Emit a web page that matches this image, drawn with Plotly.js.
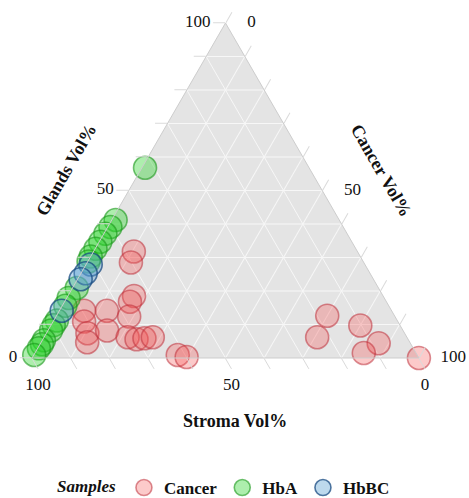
<!DOCTYPE html>
<html>
<head>
<meta charset="utf-8">
<script src="https://cdn.plot.ly/plotly-3.0.1.min.js"></script>
<style>
  html, body { margin: 0; padding: 0; background: #fff; }
  #chart { width: 469px; height: 498px; }
</style>
</head>
<body>
<div id="chart"></div>
<script>
// Tissue composition per sample (volume %): glands + stroma + cancer = 100
const cancerGlands = [31.8, 28.5, 18.5, 16.8, 14.1, 14.1, 10.9, 7.4, 4.7, 8.2, 12.4, 6.2, 5.6, 5.9, 6.2, 0.9, 0.3, 12.6, 6.2, 9.7, 4.4, 1.5, 0.0];
const cancerStroma = [57.8, 60.2, 64.4, 66.3, 79.5, 73.6, 81.1, 82.0, 83.4, 76.5, 68.7, 72.2, 70.2, 68.0, 65.7, 61.9, 59.9, 17.4, 23.2, 10.3, 8.2, 13.5, 0.0];
const cancerCancer = [10.4, 11.3, 17.1, 16.9, 6.4, 12.3, 8.0, 10.6, 11.9, 15.3, 18.9, 21.6, 24.2, 26.1, 28.1, 37.2, 39.8, 70.0, 70.6, 80.0, 87.4, 85.0, 100.0];

const hbaGlands = [56.8, 41.2, 39.1, 37.1, 34.7, 32.6, 30.3, 28.8, 20.9, 17.9, 15.6, 11.2, 9.8, 8.2, 5.3, 4.1, 2.9, 0.9];
const hbaStroma = [42.4, 57.8, 60.2, 62.5, 65.0, 67.3, 69.7, 71.0, 78.0, 81.6, 83.6, 88.0, 89.5, 91.0, 94.3, 95.4, 96.8, 99.0];
const hbaCancer = [0.8, 1.0, 0.7, 0.4, 0.3, 0.1, 0.0, 0.2, 1.1, 0.5, 0.8, 0.8, 0.7, 0.8, 0.4, 0.5, 0.3, 0.1];

const hbbcGlands = [27.9, 25.3, 23.5, 14.1];
const hbbcStroma = [70.9, 73.5, 75.7, 85.3];
const hbbcCancer = [1.2, 1.2, 0.8, 0.6];

const tickValues = [0, 10, 20, 30, 40, 50, 60, 70, 80, 90, 100];
const tickLabels = ['0', '', '', '', '', '50', '', '', '', '', '100'];

const serif = 'Liberation Serif';

function sampleTrace(name, a, b, c, fill, line) {
  return {
    type: 'scatterternary',
    mode: 'markers',
    name: name,
    a: a, b: b, c: c,
    cliponaxis: false,
    marker: { size: 23, color: fill, line: { color: line, width: 1.6 } },
    hoverinfo: 'a+b+c+name'
  };
}

const traces = [
  sampleTrace('Cancer', cancerGlands, cancerStroma, cancerCancer, 'rgba(245,80,80,0.30)', 'rgba(190,50,60,0.55)'),
  sampleTrace('HbA', hbaGlands, hbaStroma, hbaCancer, 'rgba(40,210,40,0.38)', 'rgba(25,150,25,0.60)'),
  sampleTrace('HbBC', hbbcGlands, hbbcStroma, hbbcCancer, 'rgba(90,160,210,0.40)', 'rgba(25,75,130,0.75)')
];

function ternaryAxis(labels) {
  return {
    title: { text: '' },
    min: 0,
    tickmode: 'array',
    tickvals: tickValues,
    ticktext: labels,
    ticks: 'outside',
    ticklen: 12,
    tickcolor: '#dadada',
    tickfont: { family: serif, size: 17, color: '#111' },
    showgrid: true,
    gridcolor: '#f7f7f7',
    gridwidth: 1,
    showline: true,
    linecolor: '#cdcdcd',
    linewidth: 1
  };
}

// Cancer-axis labels sit a little lower and further out from the right edge
const pad = '&nbsp;&nbsp;&nbsp;';
const cancerTickLabels = tickLabels.map(t => (t ? pad + '<br>' + pad + t : ''));

// Plot area: 387 x 475 px starting at (32, 23); the triangle sits in its upper part.
const W = 387, H = 475, L = 32, T = 23;
const px = x => (x - L) / W;
const py = y => (T + H - y) / H;

const titleFont = { family: serif, size: 18, color: '#111', weight: 'bold' };

const layout = {
  width: 469,
  height: 498,
  margin: { l: L, r: 469 - L - W, t: T, b: 498 - T - H, autoexpand: false },
  font: { family: serif, size: 17, color: '#111' },
  paper_bgcolor: '#ffffff',
  showlegend: true,
  ternary: {
    sum: 100,
    bgcolor: '#e4e4e4',
    domain: { x: [0, 1], y: [py(358), 1] },
    aaxis: ternaryAxis(tickLabels),
    baxis: ternaryAxis(tickLabels),
    caxis: ternaryAxis(cancerTickLabels)
  },
  annotations: [
    { text: '<b>Glands Vol%</b>', xref: 'paper', yref: 'paper', x: px(66), y: py(170),
      showarrow: false, textangle: -60, font: titleFont, xanchor: 'center', yanchor: 'middle' },
    { text: '<b>Cancer Vol%</b>', xref: 'paper', yref: 'paper', x: px(381), y: py(170),
      showarrow: false, textangle: 60, font: titleFont, xanchor: 'center', yanchor: 'middle' },
    { text: '<b>Stroma Vol%</b>', xref: 'paper', yref: 'paper', x: px(235), y: py(421),
      showarrow: false, font: titleFont, xanchor: 'center', yanchor: 'middle' }
  ],
  legend: {
    orientation: 'h',
    x: px(225), xanchor: 'center',
    y: py(488), yanchor: 'middle',
    title: { text: 'Samples', font: { family: serif, size: 17, color: '#111', style: 'italic', weight: 'bold' } },
    font: { family: serif, size: 17, color: '#111', weight: 'bold' },
    itemsizing: 'trace',
    bgcolor: 'rgba(0,0,0,0)'
  }
};

Plotly.newPlot('chart', traces, layout, { displayModeBar: false, staticPlot: true });
</script>
</body>
</html>
